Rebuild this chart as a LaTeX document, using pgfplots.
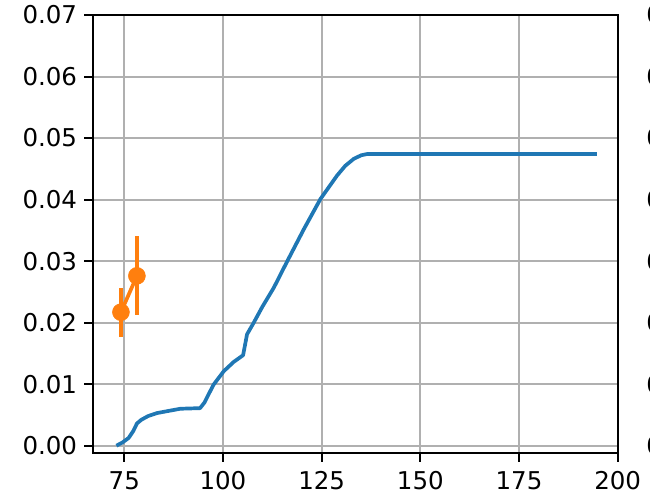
\documentclass[border=0pt]{standalone}
\usepackage{fontspec}
\setmainfont{DejaVu Sans}
\usepackage{pgfplots}
\pgfplotsset{compat=1.18}
\definecolor{c1}{HTML}{1F77B4}
\definecolor{c2}{HTML}{FF7F0E}
\definecolor{gridc}{HTML}{B0B0B0}
\pgfplotsset{
  mystyle/.style={
    anchor=south west, scale only axis, height=438.3bp,
    ymin=-0.00124, ymax=0.07,
    ytick={0,0.01,0.02,0.03,0.04,0.05,0.06,0.07},
    scaled y ticks=false,
    grid=major, grid style={line width=2bp, color=gridc},
    axis line style={line width=2bp},
    tick style={line width=2bp, black},
    major tick length=8.6bp, tick align=outside,
    xtick pos=left, ytick pos=left,
    ticklabel style={font=\fontsize{24.5bp}{29bp}\selectfont},
    /pgf/number format/assume math mode=true,
    yticklabel style={xshift=-3.5bp, /pgf/number format/.cd, fixed, fixed zerofill, precision=2},
    xticklabel style={yshift=-6bp, /pgf/number format/.cd, fixed, precision=0},
  }
}
\begin{document}
\begin{tikzpicture}
\begin{axis}[mystyle,
  at={(92.7bp,46.7bp)}, width=525bp,
  xmin=67, xmax=200,
  xtick={75,100,125,150,175,200},
]
\addplot[color=c1, line width=3.7bp, line join=round] coordinates {
(73.0,0.0000) (74.5,0.0005) (76.1,0.00125) (77.3,0.0024) (78.2,0.0036)
(79.3,0.0042) (81.0,0.0048) (83.3,0.0053) (85.8,0.0056) (89.2,0.0060)
(94.2,0.0061) (95.3,0.0070) (97.6,0.0099) (100.2,0.0121) (102.7,0.0136)
(105.1,0.0147) (106.1,0.0181) (107.8,0.0200) (110.0,0.0226) (112.9,0.0257)
(116.3,0.0300) (120.5,0.0352) (124.7,0.0401) (128.9,0.0439) (131.0,0.0455)
(133.1,0.0466) (135.0,0.0472) (136.5,0.0474) (194.7,0.0474)
};
\addplot[color=c2, line width=3.7bp, mark=*, mark size=8.5bp,
  mark options={solid, fill=c2, draw=c2, line width=0.5bp},
  error bars/.cd, y dir=both, y explicit,
  error bar style={line width=3.7bp, color=c2}, error mark=none]
  coordinates {
  (74.16,0.0217) +- (0,0.0040)
  (78.2,0.0276) +- (0,0.0064)
};
\node[anchor=base, inner sep=0pt, font=\fontsize{29.4bp}{32bp}\selectfont]
  at (rel axis cs:0.5,1) [yshift=15.5bp] {[\hspace{118bp}]};
\end{axis}
\begin{axis}[mystyle,
  at={(716.5bp,46.7bp)}, width=300bp,
  xmin=67, xmax=200,
  xtick={75,100,125,150,175,200},
]
\end{axis}
\pgfresetboundingbox
\useasboundingbox (0,0) rectangle (650bp,500bp);
\end{tikzpicture}
\end{document}
